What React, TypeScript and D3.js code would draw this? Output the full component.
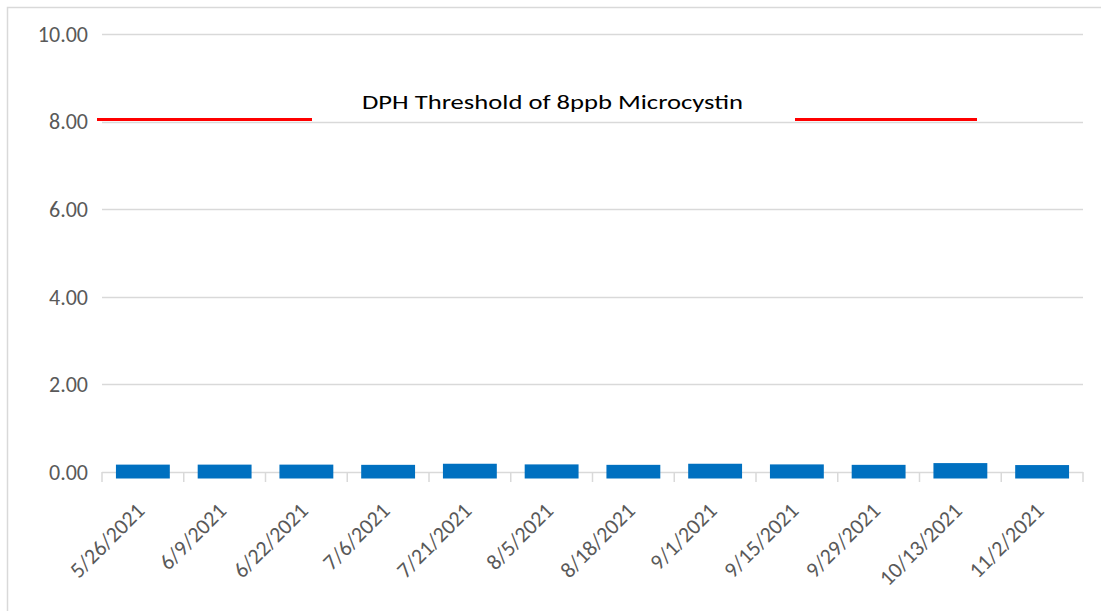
import React, { useEffect, useRef } from 'react';
import * as d3 from 'd3';

// sample dates and microcystin results (ppb)
const dates = [
  '5/26/2021', '6/9/2021', '6/22/2021', '7/6/2021', '7/21/2021', '8/5/2021',
  '8/18/2021', '9/1/2021', '9/15/2021', '9/29/2021', '10/13/2021', '11/2/2021',
];
const values = [0.02, 0.02, 0.02, 0.015, 0.04, 0.025, 0.015, 0.04, 0.025, 0.015, 0.055, 0.01];
const yTicks = [0, 2, 4, 6, 8, 10];
const threshold = 8.05;
const thresholdLabel = 'DPH Threshold of 8ppb Microcystin';

const W = 1101;
const H = 611;

const App = () => {
  const svgRef = useRef<SVGSVGElement>(null);

  useEffect(() => {
    const svg = d3.select(svgRef.current);
    svg.selectAll('*').remove();

    const margin = { top: 34, right: 18, bottom: 139, left: 102 };
    const font = 'Calibri, Carlito, Lato, sans-serif';

    // chart border
    svg.append('rect')
      .attr('x', 7.5).attr('y', 7.5)
      .attr('width', W).attr('height', H)
      .attr('fill', '#fff')
      .attr('stroke', '#d9d9d9')
      .attr('stroke-width', 1.5);

    const x = d3.scaleBand()
      .domain(dates)
      .range([margin.left, W - margin.right])
      .paddingInner(0.5)
      .paddingOuter(0.25);

    const y = d3.scaleLinear()
      .domain([0, 10])
      .range([H - margin.bottom, margin.top]);

    // gridlines
    svg.append('g')
      .selectAll('line')
      .data(yTicks)
      .join('line')
      .attr('x1', margin.left)
      .attr('x2', W - margin.right)
      .attr('y1', d => Math.round(y(d)) + 0.5)
      .attr('y2', d => Math.round(y(d)) + 0.5)
      .attr('stroke', '#d9d9d9')
      .attr('stroke-width', 1.5);

    // y labels
    svg.append('g')
      .selectAll('text')
      .data(yTicks)
      .join('text')
      .attr('x', 88)
      .attr('y', d => y(d))
      .attr('dy', '0.35em')
      .attr('text-anchor', 'end')
      .attr('font-family', font)
      .attr('font-size', 22)
      .attr('fill', '#595959')
      .text(d => d.toFixed(2));

    // category tick marks
    const step = x.step();
    const bounds = d3.range(dates.length + 1).map(i => margin.left + i * step);
    svg.append('g')
      .selectAll('line')
      .data(bounds)
      .join('line')
      .attr('x1', d => d)
      .attr('x2', d => d)
      .attr('y1', y(0))
      .attr('y2', y(0) + 10)
      .attr('stroke', '#d9d9d9')
      .attr('stroke-width', 1.5);

    // bars
    svg.append('g')
      .selectAll('rect')
      .data(values)
      .join('rect')
      .attr('x', (_, i) => x(dates[i])!)
      .attr('width', x.bandwidth())
      .attr('y', d => y(d))
      .attr('height', d => y(0) - y(d))
      .attr('fill', '#0070c0')
      .attr('stroke', '#0070c0')
      .attr('stroke-width', 13)
      .attr('stroke-linejoin', 'miter');

    // x labels
    svg.append('g')
      .selectAll('text')
      .data(dates)
      .join('text')
      .attr('transform', d => `translate(${x(d)! + x.bandwidth() / 2 + 3},${y(0) + 40}) rotate(-45)`)
      .attr('text-anchor', 'end')
      .attr('font-family', font)
      .attr('font-size', 22)
      .attr('fill', '#595959')
      .text(d => d);

    // threshold line, broken around its label
    const line = d3.line<number>().x(d => d).y(() => y(threshold));
    const segs = [[97, 312], [795, 977]];
    svg.append('g')
      .selectAll('path')
      .data(segs)
      .join('path')
      .attr('d', d => line(d))
      .attr('stroke', '#ff0000')
      .attr('stroke-width', 3)
      .attr('fill', 'none');

    svg.append('text')
      .attr('x', 362)
      .attr('y', 109)
      .attr('font-family', font)
      .attr('font-size', 21)
      .attr('textLength', 381)
      .attr('lengthAdjust', 'spacingAndGlyphs')
      .attr('fill', '#000')
      .text(thresholdLabel);
  }, []);

  return (
    <div style={{ position: 'fixed', left: 0, top: 0, background: '#fff' }}>
      <svg ref={svgRef} width={W} height={H} style={{ display: 'block' }}></svg>
    </div>
  );
};

export default App;
